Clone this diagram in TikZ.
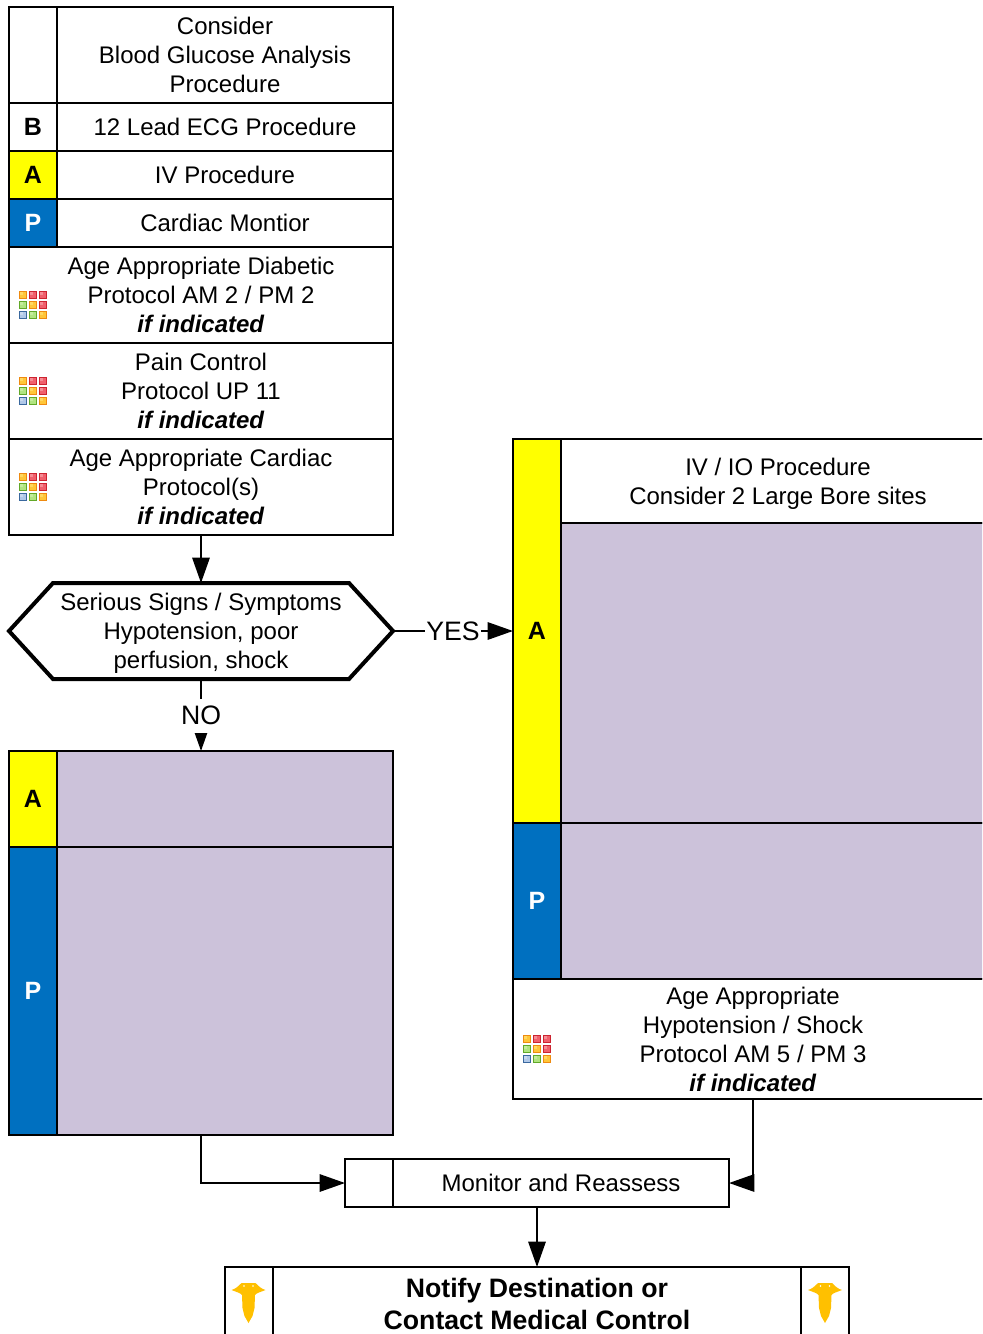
\documentclass[tikz,border=0pt]{standalone}
\usepackage{fontspec}
\setmainfont{Liberation Sans}
\usetikzlibrary{arrows.meta}
\definecolor{lilac}{HTML}{CCC2DA}
\definecolor{medblue}{HTML}{0070C0}
\definecolor{pureyellow}{HTML}{FFFF00}
\definecolor{cadgold}{HTML}{FFC000}
\definecolor{tOrB}{HTML}{EE8A10}\definecolor{tOrF}{HTML}{FFC638}\definecolor{tOrH}{HTML}{FFD860}
\definecolor{tReB}{HTML}{CC2430}\definecolor{tReF}{HTML}{F0606C}\definecolor{tReH}{HTML}{F58C94}
\definecolor{tGrB}{HTML}{62A828}\definecolor{tGrF}{HTML}{B0E480}\definecolor{tGrH}{HTML}{C4EC9C}
\definecolor{tBlB}{HTML}{3A689E}\definecolor{tBlF}{HTML}{B0C8E8}\definecolor{tBlH}{HTML}{C8D8EE}
\tikzset{
  cellbox/.style={draw=black,line width=1.5pt,fill=white,inner sep=0pt,outer sep=0pt,align=center,
    font=\fontsize{18}{21.75}\selectfont},
  bodytext/.style={inner sep=0pt,outer sep=0pt,align=center,font=\fontsize{18}{21.75}\selectfont},
  yellowcell/.style={fill=pureyellow,font=\fontsize{18.75}{21.75}\selectfont\bfseries},
  bluecell/.style={fill=medblue,text=white,font=\fontsize{18.75}{21.75}\selectfont\bfseries},
  lettercell/.style={font=\fontsize{18.75}{21.75}\selectfont\bfseries},
  bodycell/.style={fill=lilac},
  boldcell/.style={font=\fontsize{20}{24}\selectfont\bfseries},
  flow/.style={draw=black,line width=1.5pt,-{Triangle[length=19pt,width=13pt]}},
  flowlabel/.style={fill=white,inner sep=1pt,font=\fontsize{20}{22}\selectfont},
  hexline/.style={draw=black,line width=3pt,line join=miter},
}
\newcommand{\cell}[6][]{%
  \pgfmathsetmacro\cellx{(#3+#5)/2}\pgfmathsetmacro\celly{(#4+#6)/2}%
  \pgfmathsetmacro\cellw{(#5-#3)*0.75}\pgfmathsetmacro\cellh{(#6-#4)*0.75}%
  \node[cellbox,#1,minimum width=\cellw pt,minimum height=\cellh pt] (#2) at (\cellx,\celly)}
\newcommand{\tile}[5]{%
  \fill[#3] (#1,#2) rectangle ++(8,8);
  \fill[#4] (#1+1,#2+0.7) rectangle ++(6.2,5.8);
  \fill[#5] (#1+1,#2+0.7) rectangle ++(3.4,3.2);
}
\newcommand{\gridicon}[2]{%
  \begin{scope}[shift={(#1,#2)}]
  \tile{0}{0}{tOrB}{tOrF}{tOrH}\tile{10}{0}{tReB}{tReF}{tReH}\tile{20}{0}{tReB}{tReF}{tReH}
  \tile{0}{10}{tGrB}{tGrF}{tGrH}\tile{10}{10}{tOrB}{tOrF}{tOrH}\tile{20}{10}{tReB}{tReF}{tReH}
  \tile{0}{20}{tBlB}{tBlF}{tBlH}\tile{10}{20}{tGrB}{tGrF}{tGrH}\tile{20}{20}{tOrB}{tOrF}{tOrH}
  \end{scope}}
\newcommand{\caduceus}[2]{%
  \begin{scope}[shift={(#1,#2)}]
  \fill[cadgold] (-7,0) -- (7,0) .. controls (10,3) and (13,6) .. (17,7)
    .. controls (12,9) and (8,10) .. (6.5,12) -- (6,25) -- (4,33) -- (0,40) -- (-4,33) -- (-6,25) -- (-6.5,12)
    .. controls (-8,10) and (-12,9) .. (-17,7) .. controls (-13,6) and (-10,3) .. (-7,0) -- cycle;
  \fill[white] (-4.5,3) circle (0.9) (4.5,3) circle (0.9);
  \end{scope}}
\begin{document}
\begin{tikzpicture}[x=0.75pt,y=-0.75pt]
\path[use as bounding box] (0,0) rectangle (982,1334);
\clip (0,0) rectangle (982,1334);
\fill[white] (0,0) rectangle (982,1334);
% top table
\cell{t1a}{9}{7}{57}{103}{};
\cell{t1b}{57}{7}{393}{103}{Consider\\Blood Glucose Analysis\\Procedure};
\cell[lettercell]{t2a}{9}{103}{57}{151}{B};
\cell{t2b}{57}{103}{393}{151}{12 Lead ECG Procedure};
\cell[yellowcell]{t3a}{9}{151}{57}{199}{A};
\cell{t3b}{57}{151}{393}{199}{IV Procedure};
\cell[bluecell]{t4a}{9}{199}{57}{247}{P};
\cell{t4b}{57}{199}{393}{247}{Cardiac Montior};
\cell{t5}{9}{247}{393}{343}{Age Appropriate Diabetic\\Protocol AM 2 / PM 2\\\textbf{\textit{if indicated}}};
\cell{t6}{9}{343}{393}{439}{Pain Control\\Protocol UP 11\\\textbf{\textit{if indicated}}};
\cell{t7}{9}{439}{393}{535}{Age Appropriate Cardiac\\Protocol(s)\\\textbf{\textit{if indicated}}};
\gridicon{19}{291}\gridicon{19}{377}\gridicon{19}{473}
% decision
\node[inner sep=0pt,outer sep=0pt,minimum width=288pt,minimum height=72pt] (dec) at (201,631) {};
\draw[hexline] (dec.west) -- (53,583) -- (349,583) -- (dec.east) -- (349,679) -- (53,679) -- cycle;
\node[bodytext] (dectext) at (201,633.3) {Serious Signs / Symptoms\\Hypotension, poor\\perfusion, shock};
% left result table
\cell[yellowcell]{lA}{9}{751}{57}{847}{A};
\cell[bodycell]{lAb}{57}{751}{393}{847}{};
\cell[bluecell]{lP}{9}{847}{57}{1135}{P};
\cell[bodycell]{lPb}{57}{847}{393}{1135}{};
% right result table
\cell[yellowcell]{rA}{513}{439}{561}{823}{A};
\cell{rT}{561}{439}{995}{523}{};
\node[bodytext] (rTtext) at (778,484) {IV / IO Procedure\\Consider 2 Large Bore sites};
\cell[bodycell]{rAb}{561}{523}{995}{823}{};
\cell[bluecell]{rP}{513}{823}{561}{979}{P};
\cell[bodycell]{rPb}{561}{823}{995}{979}{};
\cell{rG}{513}{979}{993}{1099}{Age Appropriate\\Hypotension / Shock\\Protocol AM 5 / PM 3\\\textbf{\textit{if indicated}}};
\gridicon{523}{1035}
% monitor and notify
\cell{mA}{345}{1159}{393}{1207}{};
\cell{mB}{393}{1159}{729}{1207}{Monitor and Reassess};
\cell{nA}{225}{1267}{273}{1341}{};
\cell[boldcell]{nB}{273}{1267}{801}{1341}{Notify Destination or\\Contact Medical Control};
\cell{nC}{801}{1267}{849}{1341}{};
\caduceus{248.5}{1283}\caduceus{825}{1283}
% connectors
\draw[flow] (t7.south) -- (dec.north);
\draw[flow] (dec.east) -- node[flowlabel] (yes) {YES} (rA.west);
\draw[flow] (dec.south) -- (dec.south |- lAb.north);
\node[flowlabel,minimum height=25.5pt] (no) at (201,715.5) {NO};
\draw[flow] (dec.south |- lPb.south) |- (mA.west);
\draw[flow] (rG.south) |- (mB.east);
\draw[flow] (mB.south -| nB.north) -- (nB.north);
\end{tikzpicture}
\end{document}
